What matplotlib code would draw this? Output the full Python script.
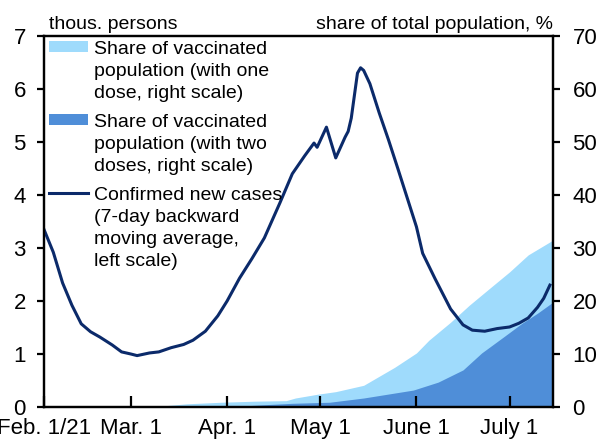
import matplotlib
matplotlib.use("Agg")
import matplotlib.pyplot as plt
from matplotlib.patches import Patch
from matplotlib.lines import Line2D
import pandas as pd

plt.rcParams["font.family"] = ["Liberation Sans", "DejaVu Sans"]

# confirmed new cases, thous. persons (7-day backward moving average)
case_dates = [
    "2021-02-01", "2021-02-04", "2021-02-07", "2021-02-10", "2021-02-13",
    "2021-02-16", "2021-02-19", "2021-02-23", "2021-02-26", "2021-03-01",
    "2021-03-03", "2021-03-07", "2021-03-10", "2021-03-14", "2021-03-18",
    "2021-03-21", "2021-03-25", "2021-03-29", "2021-04-01", "2021-04-05",
    "2021-04-09", "2021-04-13", "2021-04-18", "2021-04-22", "2021-04-26",
    "2021-04-29", "2021-04-30", "2021-05-03", "2021-05-06", "2021-05-09",
    "2021-05-10", "2021-05-11", "2021-05-13", "2021-05-14", "2021-05-15",
    "2021-05-17", "2021-05-20", "2021-05-23", "2021-05-26", "2021-05-29",
    "2021-06-01", "2021-06-03", "2021-06-07", "2021-06-12", "2021-06-16",
    "2021-06-19", "2021-06-23", "2021-06-27", "2021-07-01", "2021-07-04",
    "2021-07-07", "2021-07-10", "2021-07-12", "2021-07-14",
]
new_cases = [
    3.35, 2.92, 2.34, 1.92, 1.57,
    1.42, 1.32, 1.17, 1.04, 1.00,
    0.97, 1.02, 1.04, 1.12, 1.18,
    1.26, 1.43, 1.72, 2.00, 2.43,
    2.80, 3.19, 3.85, 4.40, 4.74,
    4.98, 4.90, 5.28, 4.70, 5.09,
    5.20, 5.45, 6.30, 6.40, 6.35,
    6.10, 5.55, 5.04, 4.50, 3.95,
    3.40, 2.90, 2.42, 1.85, 1.55,
    1.45, 1.43, 1.48, 1.51, 1.58,
    1.68, 1.88, 2.05, 2.30,
]

# share of vaccinated population, % (one dose)
dose1_dates = [
    "2021-03-12", "2021-03-13", "2021-03-19", "2021-03-30", "2021-04-10",
    "2021-04-20", "2021-04-23", "2021-04-30", "2021-05-06", "2021-05-15",
    "2021-05-25", "2021-06-01", "2021-06-05", "2021-06-12", "2021-06-18",
    "2021-06-25", "2021-07-01", "2021-07-07", "2021-07-15",
]
dose1_share = [
    0.0, 0.3, 0.6, 0.9, 1.1,
    1.2, 1.7, 2.4, 2.9, 4.1,
    7.5, 10.2, 12.6, 16.0, 19.2,
    22.6, 25.5, 28.7, 31.5,
]

# share of vaccinated population, % (two doses)
dose2_dates = [
    "2021-04-05", "2021-04-06", "2021-04-12", "2021-04-22", "2021-05-04",
    "2021-05-15", "2021-05-31", "2021-06-08", "2021-06-16", "2021-06-22",
    "2021-06-29", "2021-07-05", "2021-07-10", "2021-07-15",
]
dose2_share = [
    0.0, 0.2, 0.4, 0.7, 0.9,
    1.7, 3.2, 4.7, 7.0, 10.2,
    13.2, 15.8, 17.7, 19.8,
]

tick_dates = ["2021-02-01", "2021-03-01", "2021-04-01", "2021-05-01", "2021-06-01", "2021-07-01"]
tick_labels = ["Feb. 1/21", "Mar. 1", "Apr. 1", "May 1", "June 1", "July 1"]

light_blue = "#9fdbfc"
mid_blue = "#4f8ed8"
navy = "#0b2a6a"

fig = plt.figure(figsize=(6.0, 4.46), dpi=100)
ax = fig.add_axes([0.0733, 0.0874, 0.8484, 0.8319])
ax2 = ax.twinx()

d1 = pd.to_datetime(dose1_dates)
d2 = pd.to_datetime(dose2_dates)
ax2.fill_between(d1, 0, dose1_share, color=light_blue, linewidth=0)
ax2.fill_between(d2, 0, dose2_share, color=mid_blue, linewidth=0)

ax.plot(pd.to_datetime(case_dates), new_cases, color=navy, linewidth=2.2)
ax.set_zorder(ax2.get_zorder() + 1)
ax.patch.set_visible(False)

ax.set_xlim(pd.Timestamp("2021-02-01"), pd.Timestamp("2021-07-15"))
ax.set_ylim(0, 7)
ax2.set_ylim(0, 70)
ax.set_yticks(range(0, 8))
ax2.set_yticks(range(0, 71, 10))
ax.set_xticks(pd.to_datetime(tick_dates))
ax.set_xticklabels(tick_labels)

for a in (ax, ax2):
    for s in a.spines.values():
        s.set_linewidth(1.6)
ax.tick_params(axis="x", direction="in", length=8, width=1.6, labelsize=16, pad=8)
ax.tick_params(axis="y", direction="out", length=5, width=1.6, labelsize=16, pad=8)
ax2.tick_params(axis="y", direction="out", length=5, width=1.6, labelsize=16, pad=9)

ax.text(0.01, 1.008, "thous. persons", transform=ax.transAxes, fontsize=14,
        ha="left", va="bottom")
ax2.text(1.0, 1.008, "share of total population, %", transform=ax.transAxes,
         fontsize=14, ha="right", va="bottom")

handles = [
    Patch(facecolor=light_blue, edgecolor="none"),
    Patch(facecolor=mid_blue, edgecolor="none"),
    Line2D([], [], color=navy, linewidth=2.2),
]
labels = [
    "Share of vaccinated\npopulation (with one\ndose, right scale)",
    "Share of vaccinated\npopulation (with two\ndoses, right scale)",
    "Confirmed new cases\n(7-day backward\nmoving average,\nleft scale)",
]
leg = ax.legend(handles, labels, loc="upper left", bbox_to_anchor=(0.0, 1.0),
                frameon=False, fontsize=14, handlelength=2.0, handleheight=0.5,
                handletextpad=0.3, labelspacing=0.62, borderaxespad=0.15,
                borderpad=0.1)
for col in leg._legend_handle_box.get_children():
    for row in col.get_children():
        row.align = "top"
for t in leg.get_texts():
    t.set_linespacing(1.38)

fig.savefig("out.png", dpi=100)
